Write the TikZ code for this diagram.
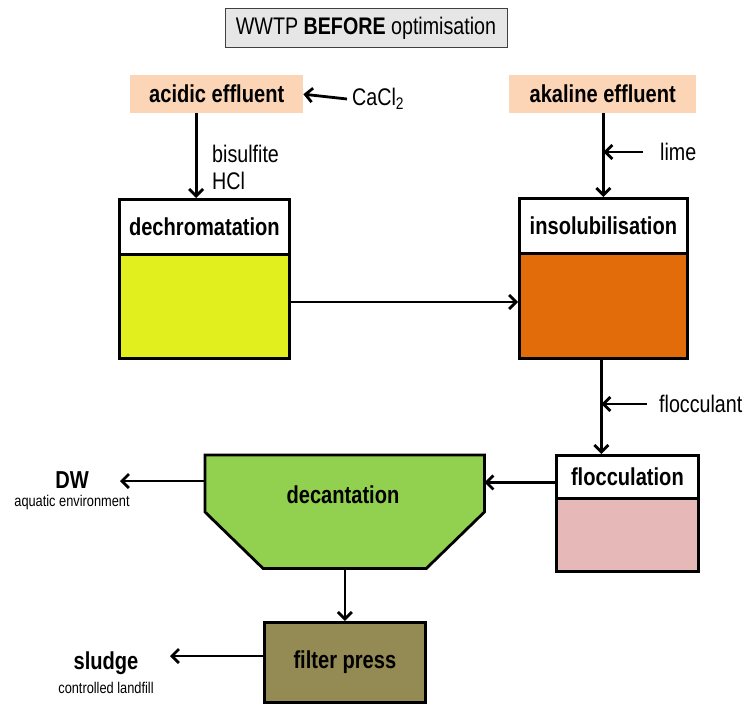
\documentclass[tikz,border=0pt]{standalone}
\usepackage{fontspec}
\setmainfont{Liberation Sans}[FakeStretch=0.82]
\usetikzlibrary{arrows.meta}
\definecolor{peach}{HTML}{FBD5B5}
\definecolor{yell}{HTML}{E2EF1F}
\definecolor{orng}{HTML}{E36C0A}
\definecolor{grn}{HTML}{92D050}
\definecolor{pnk}{HTML}{E6B9B8}
\definecolor{olive}{HTML}{948A54}
\definecolor{titlegray}{HTML}{E6E6E6}
\tikzset{
  lw/.style={line width=2.8pt},
  box/.style={draw, lw, anchor=north west, inner sep=0pt, font=\fontsize{24.5}{28}\selectfont\bfseries},
  src/.style={fill=peach, anchor=north west, inner sep=0pt, font=\fontsize{24.5}{28}\selectfont\bfseries},
  lbl/.style={inner sep=0pt, font=\fontsize{24}{28}\selectfont},
  small/.style={inner sep=0pt, font=\fontsize{15.6}{18}\selectfont},
  arr/.style={lw, -{Straight Barb[length=7pt,width=14pt]}},
}
\begin{document}
\begin{tikzpicture}[x=1pt,y=-1pt]
\useasboundingbox (0,0) rectangle (747,704);
% title
\node[draw=black!75, line width=1pt, fill=titlegray, minimum width=282pt, minimum height=39pt, inner sep=0pt, font=\fontsize{24}{28}\selectfont] (title) at (366,28) {WWTP \textbf{BEFORE} optimisation};
% sources
\node[src, minimum width=173pt, minimum height=38pt] (acid) at (130,75) {acidic effluent};
\node[src, minimum width=187pt, minimum height=38pt] (akal) at (509,75) {akaline effluent};
% dechromatation
\node[box, fill=white, minimum width=170pt, minimum height=55pt] (dechH) at (118,198) {dechromatation};
\node[box, fill=yell, minimum width=170pt, minimum height=104pt] (dechB) at (118,253) {};
% insolubilisation
\node[box, fill=white, minimum width=168pt, minimum height=55pt] (insH) at (518,197) {insolubilisation};
\node[box, fill=orng, minimum width=168pt, minimum height=105pt] (insB) at (518,252) {};
% flocculation
\node[box, fill=white, minimum width=142pt, minimum height=43pt] (flocH) at (555,454) {flocculation};
\node[box, fill=pnk, minimum width=142pt, minimum height=73pt] (flocB) at (555,497) {};
% decantation
\node[anchor=north west, inner sep=0pt, minimum width=279pt, minimum height=113pt] (dec) at (205,455) {};
\draw[lw, fill=grn, line join=miter] (dec.north west) -- (dec.north east) -- ([yshift=-57pt]dec.north east) -- ([xshift=-58pt]dec.south east) -- ([xshift=58pt]dec.south west) -- ([yshift=-57pt]dec.north west) -- cycle;
\node[inner sep=0pt, font=\fontsize{24.5}{28}\selectfont\bfseries] (dectxt) at (343,495) {decantation};
% filter press
\node[box, fill=olive, minimum width=161pt, minimum height=80pt] (press) at (263,621) {filter press};
% labels
\node[lbl, anchor=west] (cacl) at (352,99) {CaCl\textsubscript{2}};
\node[lbl, anchor=west] (bis) at (212,154) {bisulfite};
\node[lbl, anchor=west] (hcl) at (212,181) {HCl};
\node[lbl, anchor=west] (lime) at (660,152) {lime};
\node[lbl, anchor=west] (floc) at (659,404) {flocculant};
\node[inner sep=0pt, font=\fontsize{24.5}{28}\selectfont\bfseries] (dw) at (72,480) {DW};
\node[small] (aqua) at (72,502) {aquatic environment};
\node[inner sep=0pt, font=\fontsize{24.5}{28}\selectfont\bfseries] (sludge) at (106,663) {sludge};
\node[small] (land) at (106,688) {controlled landfill};
\coordinate (dwend) at (120,481);
\coordinate (slend) at (170,656);
% connectors
\draw[arr] ([xshift=-5pt]cacl.west) -- (acid.east);
\draw[arr] ([xshift=-20.5pt]acid.south) -- ([xshift=-20.5pt]acid.south |- dechH.north);
\draw[arr] (insH.north |- akal.south) -- (insH.north);
\draw[arr] ([xshift=-17pt]lime.west) -- (lime.west -| insH.north);
\draw[arr] (dechB.east |- 0,302) -- (insB.west |- 0,302);
\draw[arr] ([xshift=-2pt]insB.south) -- ([xshift=-2pt]insB.south |- flocH.north);
\draw[arr] ([xshift=-12pt]floc.west) -- ([xshift=-2pt]floc.west -| insB.south);
\draw[arr] ([yshift=-5.5pt]flocH.west) -- ([yshift=-5.5pt]flocH.west -| dec.east);
\draw[arr] (dec.west |- dwend) -- (dwend);
\draw[arr] (dec.south -| press.north) -- (press.north);
\draw[arr] (press.west |- slend) -- (slend);
\end{tikzpicture}
\end{document}
